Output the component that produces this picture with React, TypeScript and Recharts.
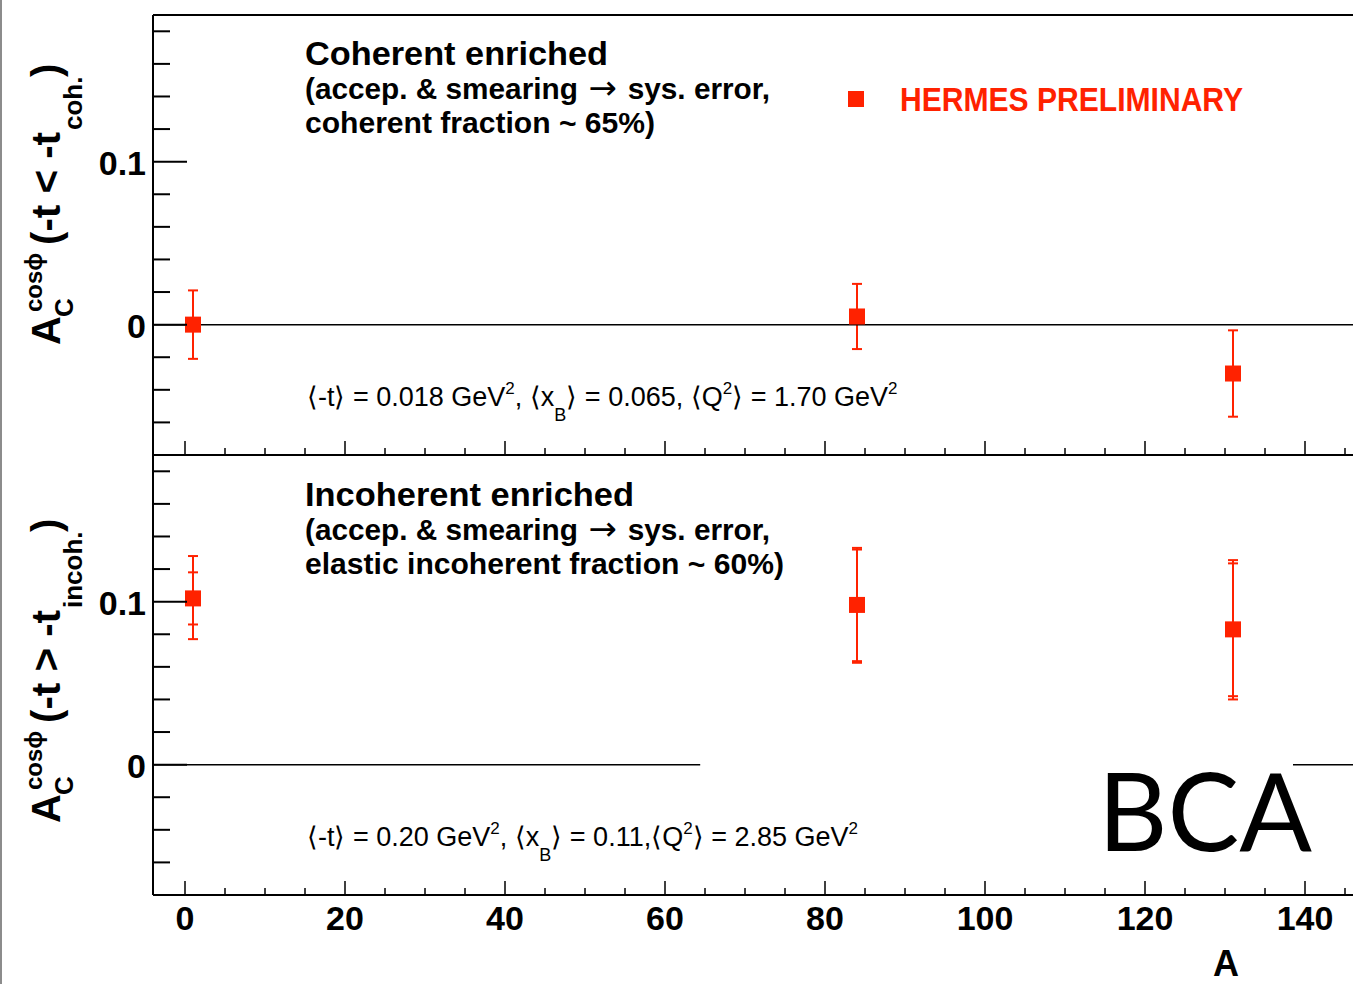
import { ErrorBar, ReferenceLine, Scatter, ScatterChart, XAxis, YAxis } from "recharts";

const RED = "#ff2200";
const FONT = '"Liberation Sans", Arial, Helvetica, sans-serif';

// target mass numbers (H, Kr, Xe)
const targetA = [1, 84, 131];

// coherent enriched sample
const cohAsym = [0.0, 0.005, -0.03];
const cohErrDown = [0.021, 0.02, 0.0265];
const cohErrUp = [0.021, 0.02, 0.0265];

// incoherent enriched sample (total and inner error)
const incohAsym = [0.102, 0.098, 0.083];
const incohTotDown = [0.025, 0.0355, 0.043];
const incohTotUp = [0.026, 0.035, 0.0425];
const incohInDown = [0.016, 0.0345, 0.041];
const incohInUp = [0.016, 0.034, 0.0405];

const xTicks = [0, 5, 10, 15, 20, 25, 30, 35, 40, 45, 50, 55, 60, 65, 70, 75, 80, 85, 90, 95, 100, 105, 110, 115, 120, 125, 130, 135, 140, 145];
const yTicks = [-0.06, -0.04, -0.02, 0, 0.02, 0.04, 0.06, 0.08, 0.1, 0.12, 0.14, 0.16, 0.18];
const yMajor = [0, 0.1];
const xDomain: [number, number] = [-4, 146];
const yDomain: [number, number] = [-0.08, 0.19];

const cohData = targetA.map((a, i) => ({
	a,
	v: cohAsym[i],
	err: [cohErrDown[i], cohErrUp[i]],
}));

const incohData = targetA.map((a, i) => ({
	a,
	v: incohAsym[i],
	tot: [incohTotDown[i], incohTotUp[i]],
	inner: [incohInDown[i], incohInUp[i]],
}));

function SquareMarker(props: any) {
	const { cx, cy } = props;
	if (cx == null || cy == null) return null;
	return <rect x={cx - 8} y={cy - 8} width={16} height={16} fill={RED} />;
}

function YTick(props: any) {
	const { x, y, payload } = props;
	const v = payload.value as number;
	const major = yMajor.some((m) => Math.abs(m - v) < 1e-9);
	return (
		<g>
			<line x1={x} x2={x + (major ? 34 : 17)} y1={y} y2={y} stroke="#000" strokeWidth={2} />
			{major && (
				<text x={x - 7} y={y + 13} textAnchor="end" fontSize={34} fontWeight="bold" fontFamily={FONT} fill="#000">
					{Math.abs(v) < 1e-9 ? "0" : String(v)}
				</text>
			)}
		</g>
	);
}

function XTick(props: any) {
	const { x, y, payload, showLabel } = props;
	const v = payload.value as number;
	const major = v % 20 === 0;
	return (
		<g>
			<line x1={x} x2={x} y1={y} y2={y - (major ? 14 : 7)} stroke="#000" strokeWidth={1.5} />
			{showLabel && major && (
				<text x={x} y={y + 35} textAnchor="middle" fontSize={34} fontWeight="bold" fontFamily={FONT} fill="#000">
					{v}
				</text>
			)}
		</g>
	);
}

function YTitle({ x, y, rel, sub, parenX }: { x: number; y: number; rel: string; sub: string; parenX: number }) {
	return (
		<g transform={`translate(${x},${y}) rotate(-90)`} fontFamily={FONT} fontWeight="bold" fill="#000">
			<text x={0} y={0} fontSize={40}>A</text>
			<text x={28} y={13} fontSize={26}>C</text>
			<text x={33} y={-18} fontSize={24}>cosϕ</text>
			<text x={100} y={0} fontSize={40} textLength={113} lengthAdjust="spacingAndGlyphs">
				{`(-t ${rel} -t`}
			</text>
			<text x={215} y={22} fontSize={26}>{sub}</text>
			<text x={parenX} y={0} fontSize={40}>)</text>
		</g>
	);
}

function Stats({ x, y, t, xb, q2, sep }: { x: number; y: number; t: string; xb: string; q2: string; sep: string }) {
	return (
		<text x={x} y={y} fontSize={27} fontFamily={FONT} fill="#000">
			{`⟨-t⟩ = ${t} GeV`}
			<tspan dy={-12} fontSize={17}>2</tspan>
			<tspan dy={12}>{", ⟨x"}</tspan>
			<tspan dy={15} fontSize={18}>B</tspan>
			<tspan dy={-15}>{`⟩ = ${xb},${sep}⟨Q`}</tspan>
			<tspan dy={-12} fontSize={17}>2</tspan>
			<tspan dy={12}>{`⟩ = ${q2} GeV`}</tspan>
			<tspan dy={-12} fontSize={17}>2</tspan>
		</text>
	);
}

function PanelNote({ y, title, titleLen, last, lastLen }: { y: number; title: string; titleLen: number; last: string; lastLen: number }) {
	return (
		<g fontFamily={FONT} fontWeight="bold" fill="#000">
			<text x={305} y={y} fontSize={33} textLength={titleLen} lengthAdjust="spacingAndGlyphs">{title}</text>
			<text x={305} y={y + 34} fontSize={29} textLength={465} lengthAdjust="spacingAndGlyphs">
				(accep. &amp; smearing
				<tspan fontFamily="'DejaVu Sans', sans-serif" fontWeight="normal" fontSize={33}> → </tspan>
				sys. error,
			</text>
			<text x={305} y={y + 68} fontSize={29} textLength={lastLen} lengthAdjust="spacingAndGlyphs">{last}</text>
		</g>
	);
}

const axisLine = { stroke: "#000", strokeWidth: 2 };

export default function App() {
	return (
		<div style={{ position: "absolute", left: 0, top: 0, width: 1353, height: 984, overflow: "hidden", background: "#fff" }}>
			<div style={{ position: "absolute", left: 0, top: 0 }}>
				<ScatterChart width={1353} height={460} margin={{ top: 15, right: 0, bottom: 4, left: 0 }}>
					<XAxis
						type="number"
						dataKey="a"
						domain={xDomain}
						ticks={xTicks}
						interval={0}
						height={1}
						tickSize={0}
						tickMargin={0}
						axisLine={axisLine}
						tick={(p: any) => <XTick {...p} />}
						allowDataOverflow
					/>
					<YAxis
						type="number"
						dataKey="v"
						domain={yDomain}
						ticks={yTicks}
						interval={0}
						width={153}
						tickSize={0}
						tickMargin={0}
						axisLine={axisLine}
						tick={(p: any) => <YTick {...p} />}
						allowDataOverflow
					/>
					<ReferenceLine y={0.19} stroke="#000" strokeWidth={2} />
					<Scatter data={cohData} fill={RED} shape={SquareMarker} isAnimationActive={false}>
						<ErrorBar dataKey="err" direction="y" width={5} stroke={RED} strokeWidth={2} />
					</Scatter>
					<ReferenceLine y={0} stroke="#000" strokeWidth={1.5} />
				</ScatterChart>
			</div>
			<div style={{ position: "absolute", left: 0, top: 450 }}>
				<ScatterChart width={1353} height={534} margin={{ top: 5, right: 0, bottom: 0, left: 0 }}>
					<XAxis
						type="number"
						dataKey="a"
						domain={xDomain}
						ticks={xTicks}
						interval={0}
						height={89}
						tickSize={0}
						tickMargin={0}
						axisLine={axisLine}
						tick={(p: any) => <XTick {...p} showLabel />}
						allowDataOverflow
					/>
					<YAxis
						type="number"
						dataKey="v"
						domain={yDomain}
						ticks={yTicks}
						interval={0}
						width={153}
						tickSize={0}
						tickMargin={0}
						axisLine={axisLine}
						tick={(p: any) => <YTick {...p} />}
						allowDataOverflow
					/>
					<ReferenceLine segment={[{ x: -4, y: 0 }, { x: 64.4, y: 0 }]} stroke="#000" strokeWidth={1.5} />
					<ReferenceLine segment={[{ x: 138.5, y: 0 }, { x: 146, y: 0 }]} stroke="#000" strokeWidth={1.5} />
					<Scatter data={incohData} fill={RED} shape={SquareMarker} isAnimationActive={false}>
						<ErrorBar dataKey="tot" direction="y" width={5} stroke={RED} strokeWidth={2} />
						<ErrorBar dataKey="inner" direction="y" width={5} stroke={RED} strokeWidth={2} />
					</Scatter>
				</ScatterChart>
			</div>
			<svg
				width={1353}
				height={984}
				style={{ position: "absolute", left: 0, top: 0, pointerEvents: "none" }}
			>
				<rect x={0} y={0} width={2} height={984} fill="#8c8c8c" />
				<YTitle x={60} y={345} rel="<" sub="coh." parenX={268} />
				<YTitle x={60} y={823} rel=">" sub="incoh." parenX={291} />
				<PanelNote y={65} title="Coherent enriched" titleLen={303} last="coherent fraction ~ 65%)" lastLen={350} />
				<PanelNote
					y={506}
					title="Incoherent enriched"
					titleLen={329}
					last="elastic incoherent fraction ~ 60%)"
					lastLen={479}
				/>
				<Stats x={307} y={406} t="0.018" xb="0.065" q2="1.70" sep=" " />
				<Stats x={307} y={846} t="0.20" xb="0.11" q2="2.85" sep="" />
				<rect x={848} y={91} width={16} height={16} fill={RED} />
				<text
					x={900}
					y={111}
					fontSize={33}
					fontWeight="bold"
					fontFamily={FONT}
					fill={RED}
					textLength={343}
					lengthAdjust="spacingAndGlyphs"
				>
					HERMES PRELIMINARY
				</text>
				<text
					x={1098}
					y={851}
					fontSize={108}
					fontFamily="Lato, 'Open Sans', sans-serif"
					fill="#000"
					textLength={214}
					lengthAdjust="spacingAndGlyphs"
				>
					BCA
				</text>
				<text x={1226} y={976} textAnchor="middle" fontSize={36} fontWeight="bold" fontFamily={FONT} fill="#000">
					A
				</text>
			</svg>
		</div>
	);
}
